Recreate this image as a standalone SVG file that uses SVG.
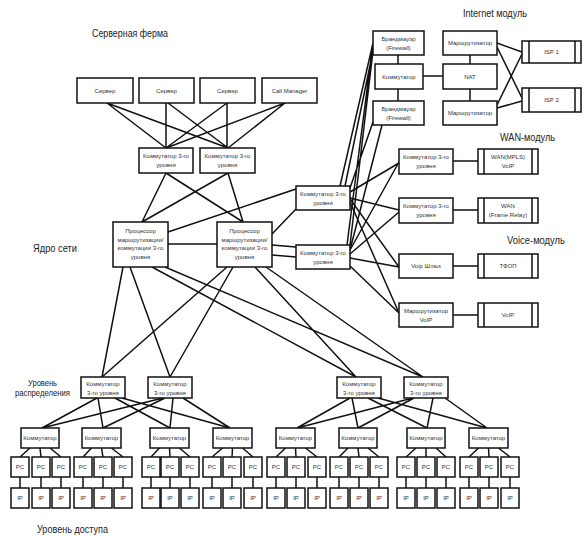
<svg xmlns="http://www.w3.org/2000/svg" width="588" height="537" viewBox="0 0 588 537">
<style>
.b{fill:#fff;stroke:#111;stroke-width:1.5}
.d{fill:none;stroke:#111;stroke-width:1.5}
#connectors path{fill:none;stroke:#111;stroke-width:1.5}
.t{font-family:"Liberation Sans",Arial,sans-serif;font-size:6px;fill:#333;text-anchor:middle}
.h{font-family:"Liberation Sans",Arial,sans-serif;fill:#222}
</style>
<rect width="588" height="537" fill="#fff"/>
<g id="titles">
<text class="h" x="92" y="37" font-size="11" textLength="76" lengthAdjust="spacingAndGlyphs">Серверная ферма</text>
<text class="h" x="463" y="17" font-size="10.5" textLength="64" lengthAdjust="spacingAndGlyphs">Internet модуль</text>
<text class="h" x="500" y="141" font-size="10.5" textLength="55" lengthAdjust="spacingAndGlyphs">WAN-модуль</text>
<text class="h" x="507" y="244" font-size="10.5" textLength="58" lengthAdjust="spacingAndGlyphs">Voice-модуль</text>
<text class="h" x="33" y="252" font-size="11" textLength="44" lengthAdjust="spacingAndGlyphs">Ядро сети</text>
<text class="h" x="28" y="386" font-size="9" textLength="29" lengthAdjust="spacingAndGlyphs">Уровень</text>
<text class="h" x="15" y="396" font-size="9" textLength="55" lengthAdjust="spacingAndGlyphs">распределения</text>
<text class="h" x="37" y="533" font-size="11" textLength="71" lengthAdjust="spacingAndGlyphs">Уровень доступа</text>
</g>
<g id="connectors">
<path d="M107,103L166,148M107,103L228,148M166,103L166,148M168,103L228,148M227,103L227,148M227,103L166,148M285,103L166,148M285,103L228,148"/>
<path d="M166,173L142,222M166,173L243,222M228,173L142,222M228,173L243,222"/>
<path d="M168,244L217,244M168,232L296,189M272,234L296,209M272,245L296,247M272,255L296,257"/>
<path d="M123,267L102,377M130,267L170,377M152,267L356,377M165,267L423,377M227,267L102,377M233,267L170,377M255,267L356,377M266,267L423,377"/>
<path d="M340,186L373,43M345,186L373,51M347,245L373,43M350,245L373,51M350,188L373,122M350,250L382,125"/>
<path d="M350,192L399,163M350,198L399,210M350,199L399,267M350,202L399,313M350,250L399,162M350,254L399,212M350,258L399,267M350,266L399,313"/>
<path d="M398,55L398,64M398,89L398,101M423,76L443,76M470,55L470,64M470,89L470,101M497,43L522,52M497,47L522,98M497,105L522,54M497,108L522,101"/>
<path d="M453,161L478,161M453,210L478,210M453,266L478,266M453,315L478,315"/>
<path d="M97,398L42,428M98,398L103,428M115,398L170,428M122,398L230,428M163,398L42,428M165,398L103,428M173,398L170,428M183,398L230,428"/>
<path d="M350,398L297,428M352,398L358,428M368,398L427,428M378,398L487,428M413,398L297,428M414,398L358,428M433,398L427,428M445,398L487,428"/>
<path d="M30,448L20,457M40,448L41,457M50,448L61,457M91.5,448L83,457M101.5,448L103,457M111.5,448L123,457M159.5,448L151,457M169.5,448L170,457M179.5,448L190,457M222.5,448L212,457M232.5,448L232,457M242.5,448L253,457"/>
<path d="M285.5,448L276,457M295.5,448L296,457M305.5,448L317,457M348,448L339,457M358,448L359,457M368,448L379,457M416,448L406,457M426,448L426,457M436,448L446,457M478.5,448L469,457M488.5,448L489,457M498.5,448L510,457"/>
<path d="M20,477V488M41,477V488M61,477V488M83,477V488M103,477V488M123,477V488M151,477V488M170,477V488M190,477V488M212,477V488M232,477V488M253,477V488"/>
<path d="M276,477V488M296,477V488M317,477V488M339,477V488M359,477V488M379,477V488M406,477V488M426,477V488M446,477V488M469,477V488M489,477V488M510,477V488"/>
</g>
<g id="server1"><rect class="b" x="77" y="78" width="56" height="25"/><text class="t" x="105" y="92.5">Сервер</text></g>
<g id="server2"><rect class="b" x="139" y="78" width="55" height="25"/><text class="t" x="166.5" y="92.5">Сервер</text></g>
<g id="server3"><rect class="b" x="200" y="78" width="55" height="25"/><text class="t" x="227.5" y="92.5">Сервер</text></g>
<g id="callmanager"><rect class="b" x="262" y="78" width="55" height="25"/><text class="t" x="289.5" y="92.5">Call Manager</text></g>
<g id="farm-sw1"><rect class="b" x="139" y="148" width="54" height="25"/><text class="t" x="166" y="158">Коммутатор 3-го</text><text class="t" x="166" y="167">уровня</text></g>
<g id="farm-sw2"><rect class="b" x="200" y="148" width="55" height="25"/><text class="t" x="227.5" y="158">Коммутатор 3-го</text><text class="t" x="227.5" y="167">уровня</text></g>
<g id="core1"><rect class="b" x="113" y="222" width="55" height="45"/><text class="t" x="140.5" y="233">Процессор</text><text class="t" x="140.5" y="241.5">маршрутизации/</text><text class="t" x="140.5" y="250">коммутации 3-го</text><text class="t" x="140.5" y="258.5">уровня</text></g>
<g id="core2"><rect class="b" x="217" y="222" width="55" height="45"/><text class="t" x="244.5" y="233">Процессор</text><text class="t" x="244.5" y="241.5">маршрутизации/</text><text class="t" x="244.5" y="250">коммутации 3-го</text><text class="t" x="244.5" y="258.5">уровня</text></g>
<g id="edge-sw1"><rect class="b" x="296" y="186" width="54" height="24"/><text class="t" x="323" y="196">Коммутатор 3-го</text><text class="t" x="323" y="205">уровня</text></g>
<g id="edge-sw2"><rect class="b" x="296" y="245" width="54" height="24"/><text class="t" x="323" y="255">Коммутатор 3-го</text><text class="t" x="323" y="264">уровня</text></g>
<g id="firewall1"><rect class="b" x="373" y="31" width="51" height="24"/><text class="t" x="398.5" y="41">Брандмауэр</text><text class="t" x="398.5" y="50">(Firewall)</text></g>
<g id="inet-sw"><rect class="b" x="375" y="64" width="48" height="25"/><text class="t" x="399" y="78.5">Коммутатор</text></g>
<g id="firewall2"><rect class="b" x="373" y="101" width="51" height="24"/><text class="t" x="398.5" y="111">Брандмауэр</text><text class="t" x="398.5" y="120">(Firewall)</text></g>
<g id="router1"><rect class="b" x="443" y="31" width="54" height="24"/><text class="t" x="470" y="45">Маршрутизатор</text></g>
<g id="nat"><rect class="b" x="443" y="64" width="54" height="25"/><text class="t" x="470" y="78.5">NAT</text></g>
<g id="router2"><rect class="b" x="443" y="101" width="54" height="24"/><text class="t" x="470" y="115">Маршрутизатор</text></g>
<g id="isp1"><rect class="b" x="522" y="41" width="59" height="22"/><path class="d" d="M529,41V63M575,41V63"/><text class="t" x="551.5" y="54">ISP 1</text></g>
<g id="isp2"><rect class="b" x="522" y="88" width="59" height="24"/><path class="d" d="M529,88V112M575,88V112"/><text class="t" x="551.5" y="102">ISP 2</text></g>
<g id="wan-sw1"><rect class="b" x="399" y="149" width="54" height="25"/><text class="t" x="426" y="159">Коммутатор 3-го</text><text class="t" x="426" y="168">уровня</text></g>
<g id="wan-mpls"><rect class="b" x="478" y="149" width="60" height="25"/><path class="d" d="M484,149V174M532,149V174"/><text class="t" x="508" y="159">WAN(MPLS)</text><text class="t" x="508" y="168">VoIP</text></g>
<g id="wan-sw2"><rect class="b" x="399" y="198" width="54" height="25"/><text class="t" x="426" y="208">Коммутатор 3-го</text><text class="t" x="426" y="217">уровня</text></g>
<g id="wan-fr"><rect class="b" x="478" y="198" width="60" height="25"/><path class="d" d="M484,198V223M532,198V223"/><text class="t" x="508" y="208">WAN</text><text class="t" x="508" y="217">(Frame Relay)</text></g>
<g id="voip-gw"><rect class="b" x="399" y="254" width="54" height="24"/><text class="t" x="426" y="268">Voip Шлюз</text></g>
<g id="pstn"><rect class="b" x="478" y="254" width="60" height="24"/><path class="d" d="M484,254V278M532,254V278"/><text class="t" x="508" y="268">ТФОП</text></g>
<g id="voip-router"><rect class="b" x="399" y="303" width="54" height="24"/><text class="t" x="426" y="313">Маршрутизатор</text><text class="t" x="426" y="322">VoIP</text></g>
<g id="voip"><rect class="b" x="478" y="303" width="60" height="24"/><path class="d" d="M484,303V327M532,303V327"/><text class="t" x="508" y="317">VoIP</text></g>
<g id="dist1"><rect class="b" x="81" y="377" width="44" height="21"/><text class="t" x="103" y="386">Коммутатор</text><text class="t" x="103" y="395">3-го уровня</text></g>
<g id="dist2"><rect class="b" x="148" y="377" width="44" height="21"/><text class="t" x="170" y="386">Коммутатор</text><text class="t" x="170" y="395">3-го уровня</text></g>
<g id="dist3"><rect class="b" x="337" y="377" width="44" height="21"/><text class="t" x="359" y="386">Коммутатор</text><text class="t" x="359" y="395">3-го уровня</text></g>
<g id="dist4"><rect class="b" x="404" y="377" width="44" height="21"/><text class="t" x="426" y="386">Коммутатор</text><text class="t" x="426" y="395">3-го уровня</text></g>
<g id="acc1"><rect class="b" x="21" y="428" width="38" height="20"/><text class="t" x="40" y="440">Коммутатор</text></g>
<g id="acc2"><rect class="b" x="82" y="428" width="39" height="20"/><text class="t" x="101.5" y="440">Коммутатор</text></g>
<g id="acc3"><rect class="b" x="150" y="428" width="39" height="20"/><text class="t" x="169.5" y="440">Коммутатор</text></g>
<g id="acc4"><rect class="b" x="213" y="428" width="39" height="20"/><text class="t" x="232.5" y="440">Коммутатор</text></g>
<g id="acc5"><rect class="b" x="276" y="428" width="39" height="20"/><text class="t" x="295.5" y="440">Коммутатор</text></g>
<g id="acc6"><rect class="b" x="339" y="428" width="38" height="20"/><text class="t" x="358" y="440">Коммутатор</text></g>
<g id="acc7"><rect class="b" x="407" y="428" width="38" height="20"/><text class="t" x="426" y="440">Коммутатор</text></g>
<g id="acc8"><rect class="b" x="469" y="428" width="39" height="20"/><text class="t" x="488.5" y="440">Коммутатор</text></g>
<g id="pc1"><rect class="b" x="11" y="457" width="18" height="20"/><text class="t" x="20" y="469">PC</text></g>
<g id="pc2"><rect class="b" x="32" y="457" width="18" height="20"/><text class="t" x="41" y="469">PC</text></g>
<g id="pc3"><rect class="b" x="52" y="457" width="18" height="20"/><text class="t" x="61" y="469">PC</text></g>
<g id="pc4"><rect class="b" x="74" y="457" width="18" height="20"/><text class="t" x="83" y="469">PC</text></g>
<g id="pc5"><rect class="b" x="94" y="457" width="18" height="20"/><text class="t" x="103" y="469">PC</text></g>
<g id="pc6"><rect class="b" x="114" y="457" width="18" height="20"/><text class="t" x="123" y="469">PC</text></g>
<g id="pc7"><rect class="b" x="142" y="457" width="18" height="20"/><text class="t" x="151" y="469">PC</text></g>
<g id="pc8"><rect class="b" x="161" y="457" width="18" height="20"/><text class="t" x="170" y="469">PC</text></g>
<g id="pc9"><rect class="b" x="181" y="457" width="18" height="20"/><text class="t" x="190" y="469">PC</text></g>
<g id="pc10"><rect class="b" x="203" y="457" width="18" height="20"/><text class="t" x="212" y="469">PC</text></g>
<g id="pc11"><rect class="b" x="223" y="457" width="18" height="20"/><text class="t" x="232" y="469">PC</text></g>
<g id="pc12"><rect class="b" x="244" y="457" width="18" height="20"/><text class="t" x="253" y="469">PC</text></g>
<g id="pc13"><rect class="b" x="267" y="457" width="18" height="20"/><text class="t" x="276" y="469">PC</text></g>
<g id="pc14"><rect class="b" x="287" y="457" width="18" height="20"/><text class="t" x="296" y="469">PC</text></g>
<g id="pc15"><rect class="b" x="308" y="457" width="18" height="20"/><text class="t" x="317" y="469">PC</text></g>
<g id="pc16"><rect class="b" x="330" y="457" width="18" height="20"/><text class="t" x="339" y="469">PC</text></g>
<g id="pc17"><rect class="b" x="350" y="457" width="18" height="20"/><text class="t" x="359" y="469">PC</text></g>
<g id="pc18"><rect class="b" x="370" y="457" width="18" height="20"/><text class="t" x="379" y="469">PC</text></g>
<g id="pc19"><rect class="b" x="397" y="457" width="18" height="20"/><text class="t" x="406" y="469">PC</text></g>
<g id="pc20"><rect class="b" x="417" y="457" width="18" height="20"/><text class="t" x="426" y="469">PC</text></g>
<g id="pc21"><rect class="b" x="437" y="457" width="18" height="20"/><text class="t" x="446" y="469">PC</text></g>
<g id="pc22"><rect class="b" x="460" y="457" width="18" height="20"/><text class="t" x="469" y="469">PC</text></g>
<g id="pc23"><rect class="b" x="480" y="457" width="18" height="20"/><text class="t" x="489" y="469">PC</text></g>
<g id="pc24"><rect class="b" x="501" y="457" width="18" height="20"/><text class="t" x="510" y="469">PC</text></g>
<g id="ip1"><rect class="b" x="11" y="488" width="18" height="20"/><text class="t" x="20" y="500">IP</text></g>
<g id="ip2"><rect class="b" x="32" y="488" width="18" height="20"/><text class="t" x="41" y="500">IP</text></g>
<g id="ip3"><rect class="b" x="52" y="488" width="18" height="20"/><text class="t" x="61" y="500">IP</text></g>
<g id="ip4"><rect class="b" x="74" y="488" width="18" height="20"/><text class="t" x="83" y="500">IP</text></g>
<g id="ip5"><rect class="b" x="94" y="488" width="18" height="20"/><text class="t" x="103" y="500">IP</text></g>
<g id="ip6"><rect class="b" x="114" y="488" width="18" height="20"/><text class="t" x="123" y="500">IP</text></g>
<g id="ip7"><rect class="b" x="142" y="488" width="18" height="20"/><text class="t" x="151" y="500">IP</text></g>
<g id="ip8"><rect class="b" x="161" y="488" width="18" height="20"/><text class="t" x="170" y="500">IP</text></g>
<g id="ip9"><rect class="b" x="181" y="488" width="18" height="20"/><text class="t" x="190" y="500">IP</text></g>
<g id="ip10"><rect class="b" x="203" y="488" width="18" height="20"/><text class="t" x="212" y="500">IP</text></g>
<g id="ip11"><rect class="b" x="223" y="488" width="18" height="20"/><text class="t" x="232" y="500">IP</text></g>
<g id="ip12"><rect class="b" x="244" y="488" width="18" height="20"/><text class="t" x="253" y="500">IP</text></g>
<g id="ip13"><rect class="b" x="267" y="488" width="18" height="20"/><text class="t" x="276" y="500">IP</text></g>
<g id="ip14"><rect class="b" x="287" y="488" width="18" height="20"/><text class="t" x="296" y="500">IP</text></g>
<g id="ip15"><rect class="b" x="308" y="488" width="18" height="20"/><text class="t" x="317" y="500">IP</text></g>
<g id="ip16"><rect class="b" x="330" y="488" width="18" height="20"/><text class="t" x="339" y="500">IP</text></g>
<g id="ip17"><rect class="b" x="350" y="488" width="18" height="20"/><text class="t" x="359" y="500">IP</text></g>
<g id="ip18"><rect class="b" x="370" y="488" width="18" height="20"/><text class="t" x="379" y="500">IP</text></g>
<g id="ip19"><rect class="b" x="397" y="488" width="18" height="20"/><text class="t" x="406" y="500">IP</text></g>
<g id="ip20"><rect class="b" x="417" y="488" width="18" height="20"/><text class="t" x="426" y="500">IP</text></g>
<g id="ip21"><rect class="b" x="437" y="488" width="18" height="20"/><text class="t" x="446" y="500">IP</text></g>
<g id="ip22"><rect class="b" x="460" y="488" width="18" height="20"/><text class="t" x="469" y="500">IP</text></g>
<g id="ip23"><rect class="b" x="480" y="488" width="18" height="20"/><text class="t" x="489" y="500">IP</text></g>
<g id="ip24"><rect class="b" x="501" y="488" width="18" height="20"/><text class="t" x="510" y="500">IP</text></g>
</svg>
